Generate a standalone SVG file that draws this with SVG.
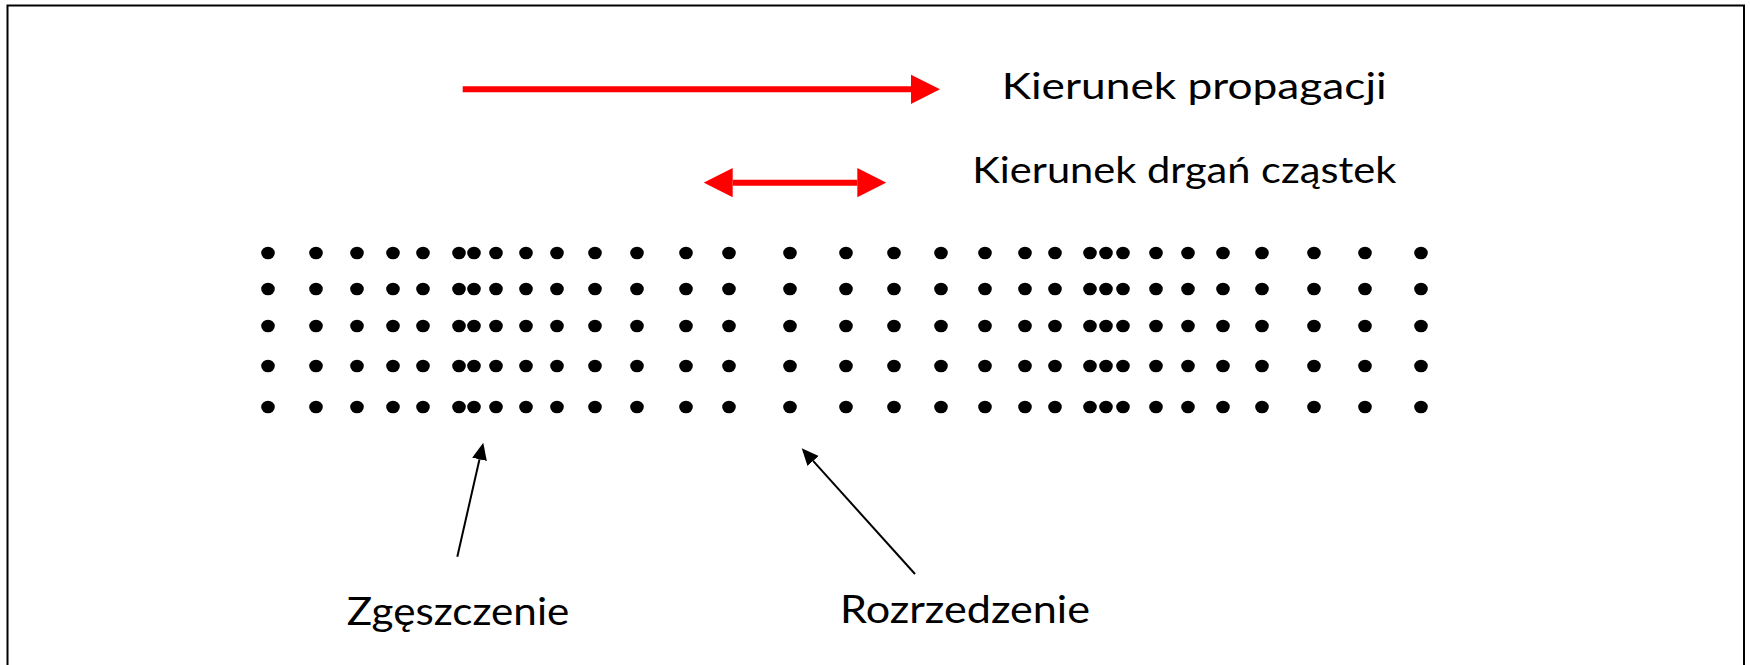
<svg xmlns="http://www.w3.org/2000/svg" xmlns:xlink="http://www.w3.org/1999/xlink" width="1750" height="665" viewBox="0 0 1750 665">
  <style>
    .frame { fill: none; stroke: #000; stroke-width: 2; }
    .label { font-family: Lato, "Open Sans", "Noto Sans", sans-serif; fill: #000; }
    .top { font-size: 36px; }
    .bottom { font-size: 39.5px; }
    .red { stroke: #ff0000; stroke-width: 6; fill: none; }
    .pointer { stroke: #000; stroke-width: 2; fill: none; }
    .dot { fill: #000; }
  </style>
  <defs>
    <marker id="redhead" viewBox="0 -15 29 30" refX="0" refY="0" markerWidth="29" markerHeight="30" markerUnits="userSpaceOnUse" orient="auto-start-reverse">
      <path d="M0,-14.6 L29,0 L0,14.6 z" fill="#ff0000"/>
    </marker>
    <marker id="blackhead" viewBox="0 -8 17 16" refX="0" refY="0" markerWidth="17" markerHeight="16" markerUnits="userSpaceOnUse" orient="auto">
      <path d="M0,-7.5 L17,0 L0,7.5 z" fill="#000"/>
    </marker>
    <filter id="soft" x="-20%" y="-20%" width="140%" height="140%">
      <feGaussianBlur stdDeviation="0.7"/>
    </filter>
    <!-- one vertical column of five particles -->
    <g id="column">
      <ellipse class="dot" cx="0" cy="253" rx="6.8" ry="6.3"/>
      <ellipse class="dot" cx="0" cy="289" rx="6.8" ry="6.3"/>
      <ellipse class="dot" cx="0" cy="326" rx="6.8" ry="6.3"/>
      <ellipse class="dot" cx="0" cy="366" rx="6.8" ry="6.3"/>
      <ellipse class="dot" cx="0" cy="407" rx="6.8" ry="6.3"/>
    </g>
  </defs>

  <rect width="1750" height="665" fill="#fff"/>

  <!-- outer frame, open at the bottom -->
  <path class="frame" d="M7.5,666 V5.5 H1744 V666"/>

  <!-- longitudinal wave: particle columns with compressions and rarefactions -->
  <g id="particles" filter="url(#soft)">
    <use href="#column" x="268"/>
    <use href="#column" x="316"/>
    <use href="#column" x="357"/>
    <use href="#column" x="393"/>
    <use href="#column" x="423"/>
    <use href="#column" x="459"/>
    <use href="#column" x="474"/>
    <use href="#column" x="496"/>
    <use href="#column" x="526"/>
    <use href="#column" x="557"/>
    <use href="#column" x="595"/>
    <use href="#column" x="637"/>
    <use href="#column" x="686"/>
    <use href="#column" x="729"/>
    <use href="#column" x="790"/>
    <use href="#column" x="846"/>
    <use href="#column" x="894"/>
    <use href="#column" x="941"/>
    <use href="#column" x="985"/>
    <use href="#column" x="1025"/>
    <use href="#column" x="1055"/>
    <use href="#column" x="1090"/>
    <use href="#column" x="1106"/>
    <use href="#column" x="1123"/>
    <use href="#column" x="1156"/>
    <use href="#column" x="1188"/>
    <use href="#column" x="1223"/>
    <use href="#column" x="1262"/>
    <use href="#column" x="1314"/>
    <use href="#column" x="1365"/>
    <use href="#column" x="1421"/>
  </g>

  <g id="propagation-label">
    <text class="label top" x="1001.7" y="99.3" textLength="385" lengthAdjust="spacingAndGlyphs">Kierunek propagacji</text>
  </g>
  <g id="oscillation-label">
    <text class="label top" x="972.3" y="183.3" textLength="424" lengthAdjust="spacingAndGlyphs">Kierunek drgań cząstek</text>
  </g>
  <g id="compression-label">
    <text class="label bottom" x="346.7" y="625" textLength="222.6" lengthAdjust="spacingAndGlyphs">Zgęszczenie</text>
  </g>
  <g id="rarefaction-label">
    <text class="label bottom" x="840" y="622.7" textLength="250" lengthAdjust="spacingAndGlyphs">Rozrzedzenie</text>
  </g>

  <g id="connectors">
    <!-- propagation direction -->
    <line class="red" x1="462.7" y1="89.3" x2="911" y2="89.3" marker-end="url(#redhead)"/>
    <!-- particle oscillation, both ways -->
    <line class="red" x1="732.7" y1="182.7" x2="857.3" y2="182.7" marker-start="url(#redhead)" marker-end="url(#redhead)"/>
    <!-- pointers from the labels to the wave -->
    <line class="pointer" x1="457.3" y1="556.7" x2="479.5" y2="459.3" marker-end="url(#blackhead)"/>
    <line class="pointer" x1="915" y1="574" x2="813.1" y2="460.9" marker-end="url(#blackhead)"/>
  </g>
</svg>
